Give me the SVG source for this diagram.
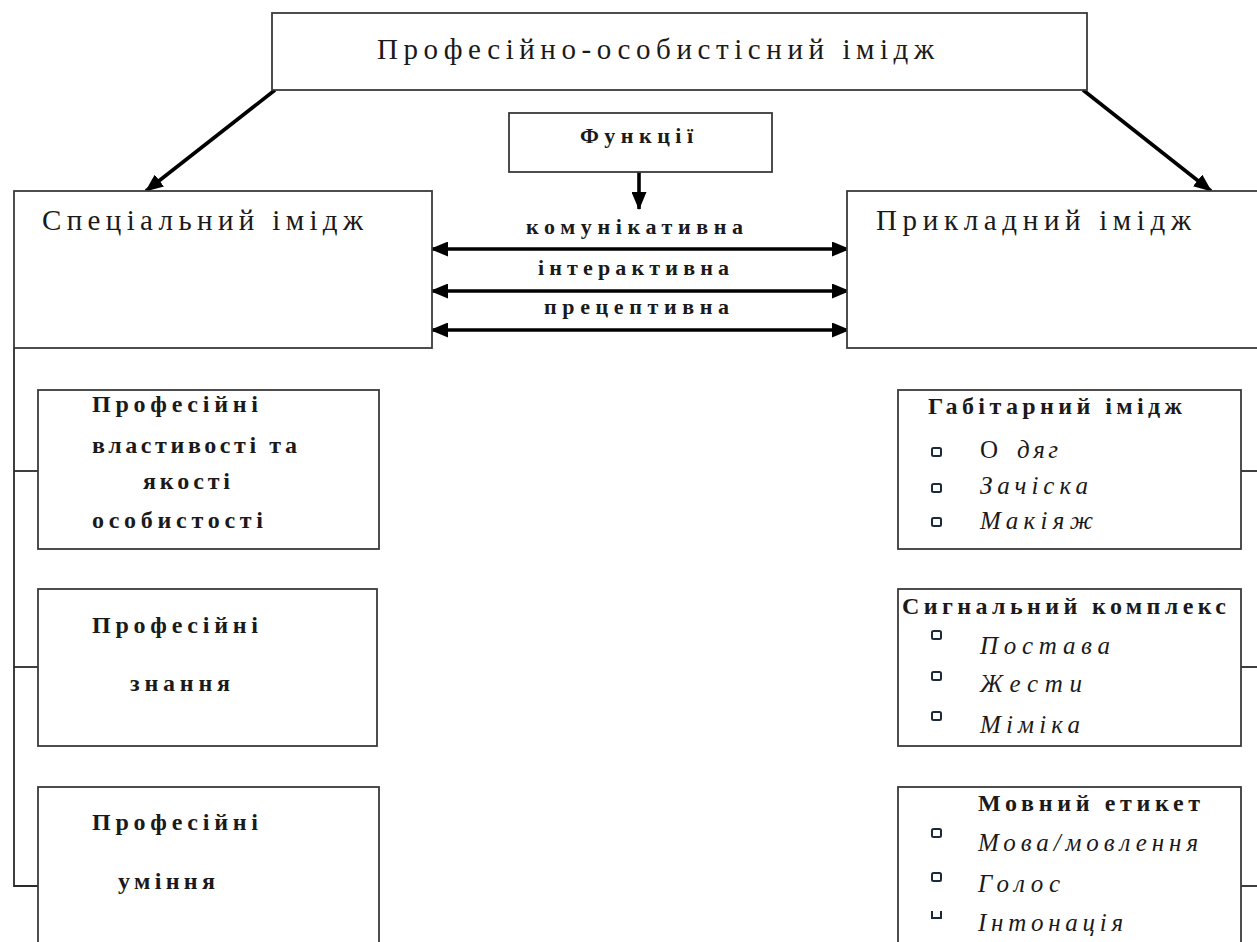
<svg xmlns="http://www.w3.org/2000/svg" width="1257" height="942" viewBox="0 0 1257 942">
<style>
.box{fill:#fff;stroke:#3a3a3a;stroke-width:1.8}
.ln{stroke:#2a2a2a;stroke-width:1.8;fill:none}
.ar{stroke:#000;stroke-width:3.6;fill:none}
.t{font-family:"Liberation Serif","Times New Roman",serif;fill:#1a1a1a}
.big{font-size:29px}
.f{font-size:22px;font-weight:bold}
.b{font-size:24px;font-weight:bold}
.it{font-size:25px;font-style:italic}
.bul{fill:#fff;stroke:#1c2a3e;stroke-width:2}
</style>
<defs>
<marker id="ah" viewBox="0 0 18 15" refX="17" refY="7.5" markerWidth="18" markerHeight="15" orient="auto-start-reverse" markerUnits="userSpaceOnUse">
<path d="M0,0 L18,7.5 L0,15 z" fill="#000"/>
</marker>
</defs>
<g id="connectors">
<line class="ar" x1="275" y1="90" x2="146" y2="191" marker-end="url(#ah)"/>
<line class="ar" x1="1083" y1="90" x2="1211" y2="191" marker-end="url(#ah)"/>
<line class="ar" x1="639" y1="172" x2="639" y2="209" marker-end="url(#ah)"/>
<line class="ar" x1="431" y1="249" x2="849" y2="249" marker-start="url(#ah)" marker-end="url(#ah)"/>
<line class="ar" x1="431" y1="291" x2="849" y2="291" marker-start="url(#ah)" marker-end="url(#ah)"/>
<line class="ar" x1="431" y1="330" x2="849" y2="330" marker-start="url(#ah)" marker-end="url(#ah)"/>
<polyline class="ln" points="14,348 14,886 40,886"/>
<line class="ln" x1="14" y1="471" x2="40" y2="471"/>
<line class="ln" x1="14" y1="667" x2="40" y2="667"/>
<line class="ln" x1="1241" y1="471" x2="1257" y2="471"/>
<line class="ln" x1="1241" y1="667" x2="1257" y2="667"/>
<line class="ln" x1="1241" y1="886" x2="1257" y2="886"/>
</g>
<g id="top">
<rect class="box" x="272" y="13" width="815" height="77"/>
<text class="t big" x="377" y="59" textLength="557" lengthAdjust="spacing">Професійно-особистісний імідж</text>
</g>
<g id="functions">
<rect class="box" x="509" y="113" width="263" height="59"/>
<text class="t f" x="580" y="143" textLength="113" lengthAdjust="spacing">Функції</text>
</g>
<g id="function-labels">
<text class="t f" x="526" y="234" textLength="217" lengthAdjust="spacing">комунікативна</text>
<text class="t f" x="538" y="275" textLength="191" lengthAdjust="spacing">інтерактивна</text>
<text class="t f" x="544" y="314" textLength="185" lengthAdjust="spacing">прецептивна</text>
</g>
<g id="special">
<rect class="box" x="14" y="191" width="418" height="157"/>
<text class="t big" x="42" y="230" textLength="321" lengthAdjust="spacing">Спеціальний імідж</text>
</g>
<g id="applied">
<rect class="box" x="847" y="191" width="420" height="157"/>
<text class="t big" x="876" y="230" textLength="315" lengthAdjust="spacing">Прикладний імідж</text>
</g>
<g id="prof-qualities">
<rect class="box" x="38" y="390" width="341" height="159"/>
<text class="t b" x="92" y="412" textLength="166" lengthAdjust="spacing">Професійні</text>
<text class="t b" x="92" y="453" textLength="205" lengthAdjust="spacing">властивості та</text>
<text class="t b" x="143" y="489" textLength="87" lengthAdjust="spacing">якості</text>
<text class="t b" x="92" y="528" textLength="171" lengthAdjust="spacing">особистості</text>
</g>
<g id="prof-knowledge">
<rect class="box" x="38" y="589" width="339" height="157"/>
<text class="t b" x="92" y="633" textLength="166" lengthAdjust="spacing">Професійні</text>
<text class="t b" x="130" y="691" textLength="100" lengthAdjust="spacing">знання</text>
</g>
<g id="prof-skills">
<rect class="box" x="38" y="787" width="341" height="170"/>
<text class="t b" x="92" y="830" textLength="166" lengthAdjust="spacing">Професійні</text>
<text class="t b" x="118" y="889" textLength="97" lengthAdjust="spacing">уміння</text>
</g>
<g id="habitual">
<rect class="box" x="898" y="390" width="343" height="159"/>
<text class="t b" x="928" y="414" textLength="254" lengthAdjust="spacing">Габітарний імідж</text>
<rect class="bul" x="932" y="448" width="9" height="8" rx="1.5"/>
<rect class="bul" x="932" y="484" width="9" height="8" rx="1.5"/>
<rect class="bul" x="932" y="518" width="9" height="8" rx="1.5"/>
<text class="t" x="980" y="458" style="font-size:25px">О</text>
<text class="t it" x="1017" y="458" textLength="41" lengthAdjust="spacing">дяг</text>
<text class="t it" x="980" y="494" textLength="108" lengthAdjust="spacing">Зачіска</text>
<text class="t it" x="980" y="529" textLength="113" lengthAdjust="spacing">Макіяж</text>
</g>
<g id="signal">
<rect class="box" x="898" y="589" width="343" height="157"/>
<text class="t b" x="902" y="614" textLength="324" lengthAdjust="spacing">Сигнальний комплекс</text>
<rect class="bul" x="932" y="631" width="9" height="8" rx="1.5"/>
<rect class="bul" x="932" y="672" width="9" height="8" rx="1.5"/>
<rect class="bul" x="932" y="712" width="9" height="8" rx="1.5"/>
<text class="t it" x="980" y="654" textLength="130" lengthAdjust="spacing">Постава</text>
<text class="t it" x="980" y="692" textLength="102" lengthAdjust="spacing">Жести</text>
<text class="t it" x="980" y="733" textLength="100" lengthAdjust="spacing">Міміка</text>
</g>
<g id="speech">
<rect class="box" x="898" y="787" width="343" height="170"/>
<text class="t b" x="978" y="811" textLength="222" lengthAdjust="spacing">Мовний етикет</text>
<rect class="bul" x="932" y="829" width="9" height="8" rx="1.5"/>
<rect class="bul" x="932" y="873" width="9" height="8" rx="1.5"/>
<path class="bul" d="M932,911 V918 H941 V911" fill="none"/>
<text class="t it" x="978" y="851" textLength="220" lengthAdjust="spacing">Мова/мовлення</text>
<text class="t it" x="978" y="892" textLength="82" lengthAdjust="spacing">Голос</text>
<text class="t it" x="978" y="931" textLength="145" lengthAdjust="spacing">Інтонація</text>
</g>
</svg>
